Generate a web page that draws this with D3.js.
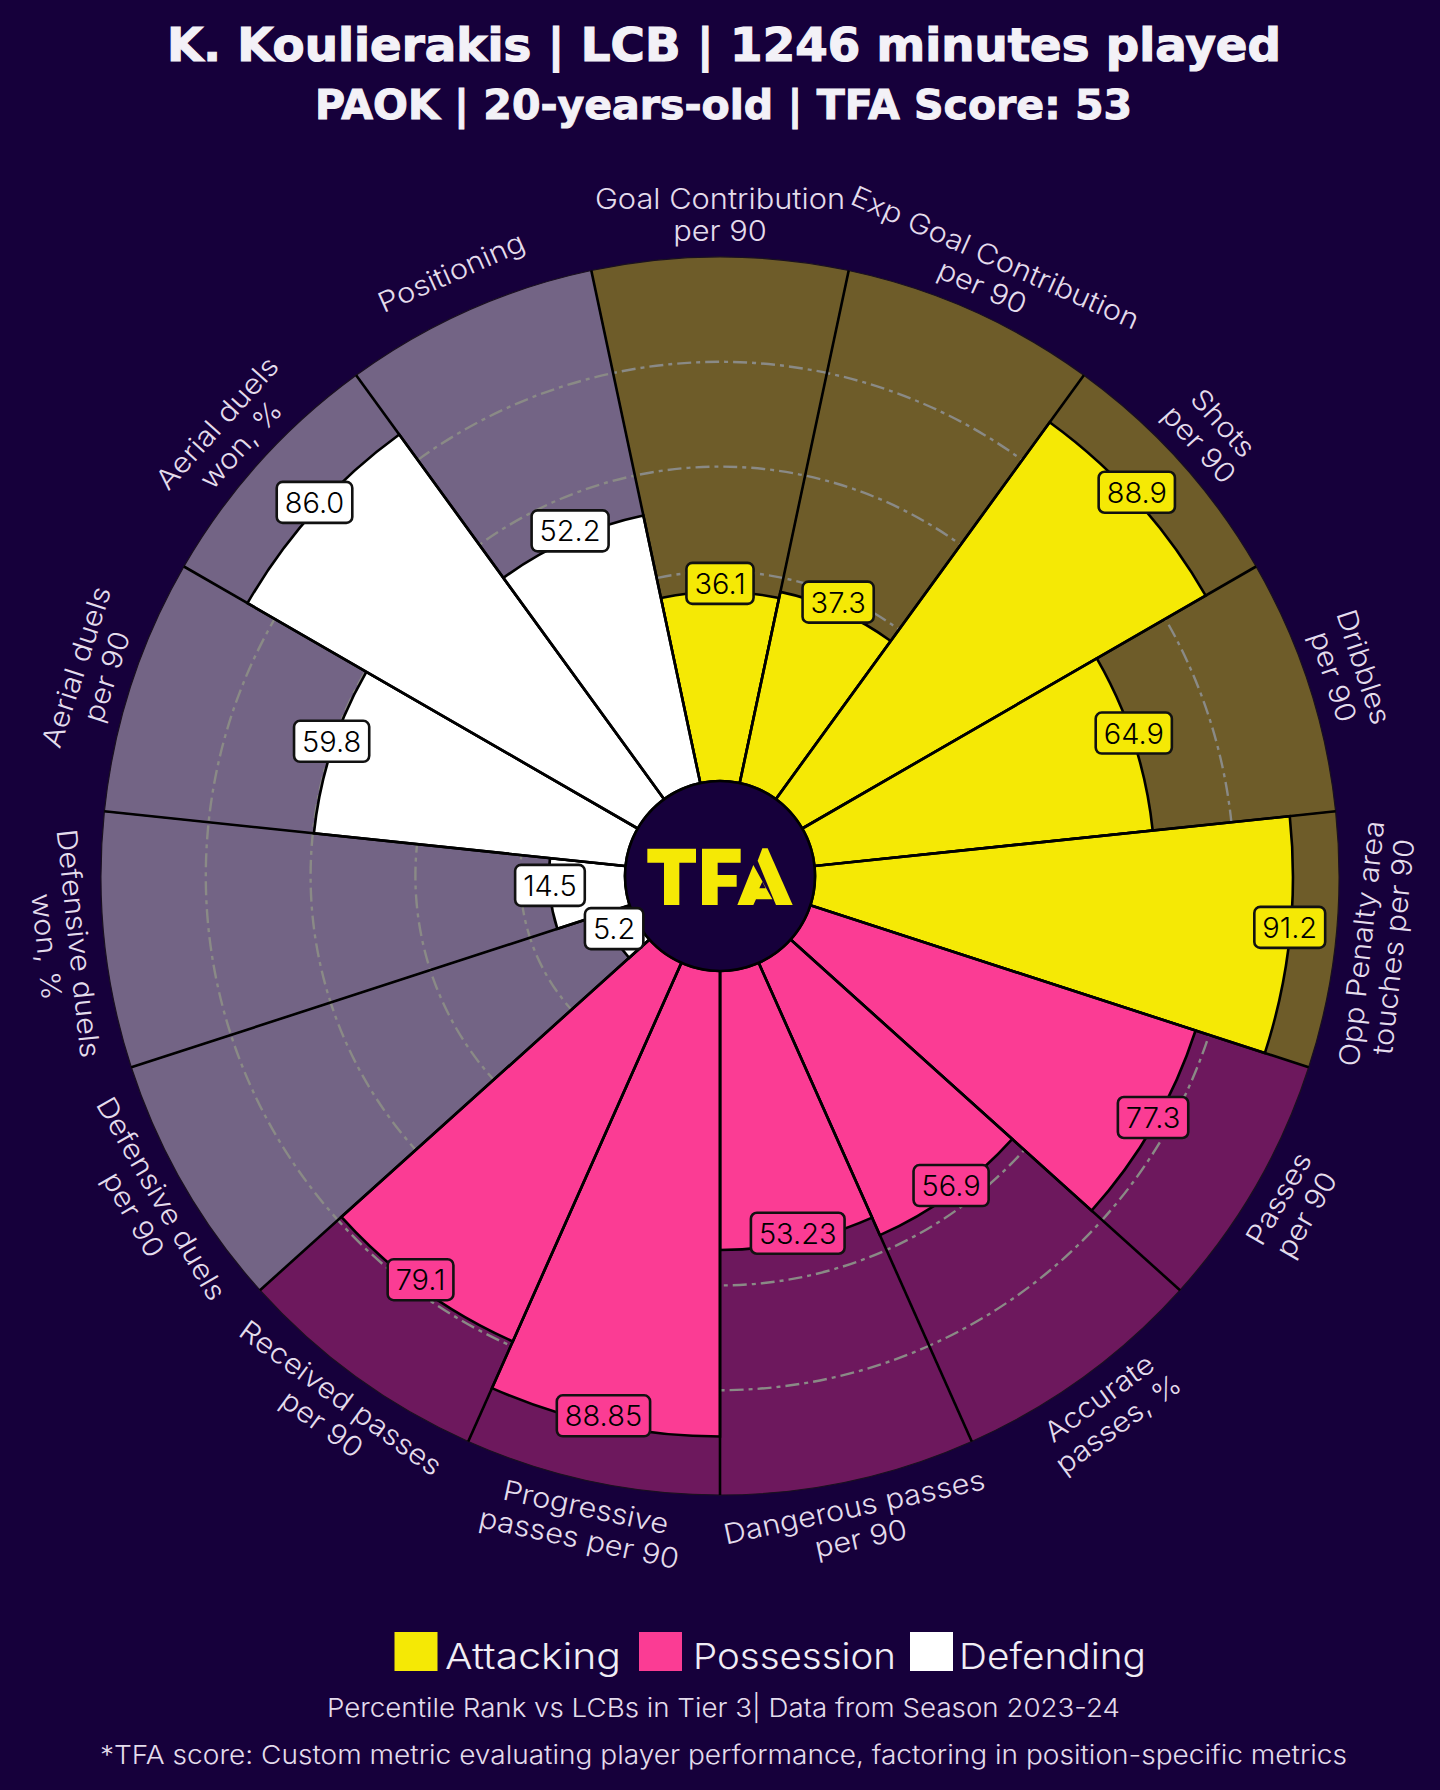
<!DOCTYPE html>
<html>
<head>
<meta charset="utf-8">
<script src="https://cdn.jsdelivr.net/npm/d3@7"></script>
<style>
  html, body { margin: 0; padding: 0; background: #16003b; }
  text { font-family: Inter, "DejaVu Sans", sans-serif; }
</style>
</head>
<body>
<div id="chart"></div>
<script>
var categories = ["Goal Contribution\nper 90", "Exp Goal Contribution\nper 90", "Shots\nper 90", "Dribbles\nper 90",
  "Opp Penalty area\ntouches per 90", "Passes\nper 90", "Accurate\npasses, %", "Dangerous passes\nper 90",
  "Progressive\npasses per 90", "Received passes\nper 90", "Defensive duels\nper 90", "Defensive duels\nwon, %",
  "Aerial duels\nper 90", "Aerial duels\nwon, %", "Positioning"];
var values = [36.1, 37.3, 88.9, 64.9, 91.2, 77.3, 56.9, 53.23, 88.85, 79.1, 5.2, 14.5, 59.8, 86.0, 52.2];
var valueLabels = ["36.1", "37.3", "88.9", "64.9", "91.2", "77.3", "56.9", "53.23", "88.85", "79.1", "5.2", "14.5", "59.8", "86.0", "52.2"];
var groups = ["Attacking", "Attacking", "Attacking", "Attacking", "Attacking",
  "Possession", "Possession", "Possession", "Possession", "Possession",
  "Defending", "Defending", "Defending", "Defending", "Defending"];
var groupNames = ["Attacking", "Possession", "Defending"];
var groupColors = ["#f5e905", "#fb3c94", "#ffffff"];
var groupFaded = ["#6e5c29", "#6d185d", "#736485"];
var gridTicks = [20, 40, 60, 80];

var width = 1440, height = 1790, cx = 720, cy = 876;
var bg = "#16003b", inner = 95, outer = 619;

var svg = d3.select("#chart").append("svg")
  .attr("width", width).attr("height", height)
  .style("display", "block");

// fit a text to the width it has in the reference
function fit(sel, w) {
  sel.attr("textLength", w).attr("lengthAdjust", "spacingAndGlyphs");
  return sel;
}

var color = d3.scaleOrdinal().domain(groupNames).range(groupColors);
var faded = d3.scaleOrdinal().domain(groupNames).range(groupFaded);
// first slice is centred on 12 o'clock, so start half a band (12 deg) back
var angle = d3.scaleBand().domain(categories).range([-Math.PI / 15, 2 * Math.PI - Math.PI / 15]);
var radius = d3.scaleLinear().domain([0, 100]).range([inner, outer]);

var g = svg.append("g").attr("transform", "translate(" + cx + "," + cy + ")");
var arc = d3.arc();

// background slices
g.selectAll(".bgslice").data(categories).enter().append("path")
  .attr("d", function(d) {
    return arc({ innerRadius: inner, outerRadius: outer, startAngle: angle(d), endAngle: angle(d) + angle.bandwidth() });
  })
  .attr("fill", function(d, i) { return faded(groups[i]); })
  .attr("stroke", "#1a1020").attr("stroke-width", 1.2);

// grid rings
g.selectAll(".ring").data(gridTicks).enter().append("circle")
  .attr("r", function(d) { return radius(d); })
  .attr("fill", "none").attr("stroke", "#8a8a86").attr("stroke-width", 2.4)
  .attr("stroke-dasharray", "14 5 4 5");

// value slices
g.selectAll(".slice").data(categories).enter().append("path")
  .attr("d", function(d, i) {
    return arc({ innerRadius: inner, outerRadius: radius(values[i]), startAngle: angle(d), endAngle: angle(d) + angle.bandwidth() });
  })
  .attr("fill", function(d, i) { return color(groups[i]); })
  .attr("stroke", "#000").attr("stroke-width", 2.6);

// spokes
g.selectAll(".spoke").data(categories).enter().append("line")
  .attr("x1", function(d) { return inner * Math.sin(angle(d)); })
  .attr("y1", function(d) { return -inner * Math.cos(angle(d)); })
  .attr("x2", function(d) { return outer * Math.sin(angle(d)); })
  .attr("y2", function(d) { return -outer * Math.cos(angle(d)); })
  .attr("stroke", "#000").attr("stroke-width", 2.6);

// centre circle and logo
g.append("circle").attr("r", inner).attr("fill", bg).attr("stroke", "#000").attr("stroke-width", 2.6);

var logoPaths = [
  "M22,56H168V98H118V225H72V98H22Z",
  "M186,56H302V98H233V135H290V170H233V225H186Z",
  "M367,55L383,55L458,225L408,225L353,92Z",
  "M292,225L340,105L397,208L348,208L340,225ZM367,155L358,175L377,175Z"
];
var logo = svg.append("g").attr("transform", "translate(640,830) scale(" + (1 / 3) + ")");
logo.selectAll("path").data(logoPaths).enter().append("path")
  .attr("d", function(d) { return d; })
  .attr("fill", "#f5e905").attr("fill-rule", "evenodd");

// category labels
var labelR = 661;
var labels = g.selectAll(".cat").data(categories).enter().append("text")
  .attr("class", "cat")
  .attr("transform", function(d) {
    var mid = angle(d) + angle.bandwidth() / 2;
    var deg = mid * 180 / Math.PI;
    var rot = (deg > 90 && deg < 270) ? deg - 180 : deg;
    return "translate(" + (labelR * Math.sin(mid)) + "," + (-labelR * Math.cos(mid)) + ") rotate(" + rot + ") scale(1.1,1)";
  })
  .attr("text-anchor", "middle")
  .attr("fill", "#e4dcec")
  .style("font-size", "28px")
  .style("font-weight", 300);
labels.each(function(d) {
  var lines = d.split("\n");
  var t = d3.select(this);
  lines.forEach(function(line, j) {
    t.append("tspan").attr("x", 0)
      .attr("y", (j - (lines.length - 1) / 2) * 32 + 10)
      .text(line);
  });
});

// value boxes
var boxes = g.selectAll(".val").data(categories).enter().append("g")
  .attr("class", "val")
  .attr("transform", function(d, i) {
    var mid = angle(d) + angle.bandwidth() / 2;
    var r = radius(values[i]);
    return "translate(" + (r * Math.sin(mid)) + "," + (-r * Math.cos(mid) - 8.5) + ")";
  });
boxes.append("rect")
  .attr("fill", function(d, i) { return color(groups[i]); })
  .attr("stroke", "#111").attr("stroke-width", 2.6)
  .attr("rx", 6).attr("ry", 6);
boxes.append("text")
  .attr("text-anchor", "middle").attr("y", 10.5)
  .attr("fill", "#000").style("font-size", "29px").style("font-weight", 300)
  .text(function(d, i) { return valueLabels[i]; });
boxes.each(function() {
  var b = d3.select(this);
  var w = b.select("text").node().getComputedTextLength() + 16;
  b.select("rect").attr("x", -w / 2).attr("y", -20.5).attr("width", w).attr("height", 41);
});

// titles
fit(svg.append("text").attr("x", 167).attr("y", 61)
  .attr("fill", "#f3f1f7").attr("stroke", "#f3f1f7").attr("stroke-width", 1.2)
  .style("font-family", "'DejaVu Sans'").style("font-weight", 700).style("font-size", "46px")
  .text("K. Koulierakis | LCB | 1246 minutes played"), 1114);
fit(svg.append("text").attr("x", 315).attr("y", 119)
  .attr("fill", "#f3f1f7").attr("stroke", "#f3f1f7").attr("stroke-width", 1)
  .style("font-family", "'DejaVu Sans'").style("font-weight", 700).style("font-size", "40px")
  .text("PAOK | 20-years-old | TFA Score: 53"), 817);

// legend
var legendBoxX = [394.5, 639, 910];
var legendTextX = [445, 693, 959];
var legendTextW = [176, 203, 187];
var legend = svg.selectAll(".leg").data(groupNames).enter().append("g").attr("class", "leg");
legend.append("rect")
  .attr("x", function(d, i) { return legendBoxX[i]; })
  .attr("y", 1632).attr("width", 43).attr("height", 39)
  .attr("fill", function(d) { return color(d); });
legend.append("text")
  .attr("x", function(d, i) { return legendTextX[i]; })
  .attr("y", 1669).attr("fill", "#f0edf5").style("font-size", "36px").style("font-weight", 300)
  .attr("textLength", function(d, i) { return legendTextW[i]; })
  .attr("lengthAdjust", "spacingAndGlyphs")
  .text(function(d) { return d; });

// footer
fit(svg.append("text").attr("x", 327).attr("y", 1717).attr("fill", "#e4dcec").style("font-size", "26px").style("font-weight", 300)
  .text("Percentile Rank vs LCBs in Tier 3| Data from Season 2023-24"), 793);
fit(svg.append("text").attr("x", 100).attr("y", 1764).attr("fill", "#e4dcec").style("font-size", "26px").style("font-weight", 300)
  .text("*TFA score: Custom metric evaluating player performance, factoring in position-specific metrics"), 1247);
</script>
</body>
</html>
